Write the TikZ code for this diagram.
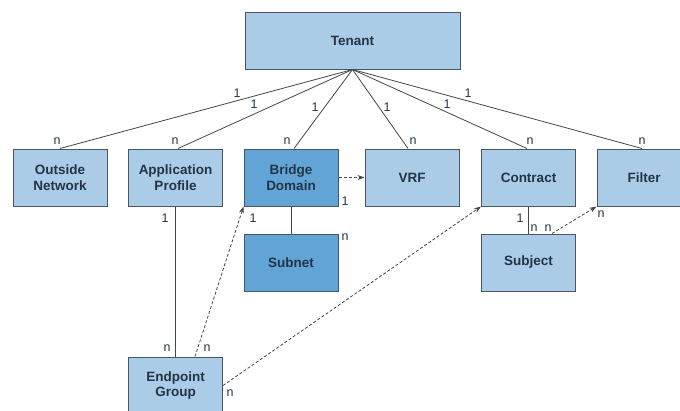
\documentclass[tikz,border=0pt]{standalone}
\usepackage{fontspec}
\setmainfont{Liberation Sans}
\usetikzlibrary{arrows.meta}
\definecolor{boxlight}{RGB}{170,204,231}
\definecolor{boxdark}{RGB}{98,164,213}
\definecolor{boxline}{RGB}{72,86,102}
\definecolor{txt}{RGB}{34,52,72}
\definecolor{wire}{RGB}{70,70,70}
\begin{document}
\begin{tikzpicture}[x=1pt,y=-1pt,
	obj/.style={draw=boxline,line width=1pt,fill=boxlight,minimum width=94pt,minimum height=57pt,
		align=center,text=txt,font=\fontsize{13.5}{15.5}\selectfont\bfseries,inner sep=0pt},
	objdark/.style={obj,fill=boxdark},
	card/.style={text=txt,font=\fontsize{12.5}{12.5}\selectfont,inner sep=0pt},
	rel/.style={wire,line width=0.8pt},
	ref/.style={wire,line width=0.8pt,dash pattern=on 3pt off 2pt,-{Stealth[length=7pt,width=5pt]}}]
				\useasboundingbox (0,0) rectangle (680,410);
				\node[obj,minimum width=215pt] (tenant) at (352.5,40.5) {Tenant};
				\node[obj] (outside) at (60,177.5) {Outside\\Network};
				\node[obj] (app) at (175.5,177.5) {Application\\Profile};
				\node[objdark] (bd) at (291,177.5) {Bridge\\Domain};
				\node[obj] (vrf) at (412,177.5) {VRF};
				\node[obj] (contract) at (528.5,177.5) {Contract};
				\node[obj] (filter) at (644,177.5) {Filter};
				\node[objdark] (subnet) at (291,262.5) {Subnet};
				\node[obj] (subject) at (528.5,262.5) {Subject};
				\node[obj] (epg) at (175.5,385.5) {Endpoint\\Group};
				% tenant children
				\draw[rel] (tenant.south) -- (outside.north);
				\draw[rel] (tenant.south) -- ([xshift=2.5pt]app.north);
				\draw[rel] (tenant.south) -- ([xshift=3pt]bd.north);
				\draw[rel] (tenant.south) -- ([xshift=-4pt]vrf.north);
				\draw[rel] (tenant.south) -- ([xshift=-1.5pt]contract.north);
				\draw[rel] (tenant.south) -- ([xshift=-2pt]filter.north);
				\draw[rel] (bd.south) -- (subnet.north);
				\draw[rel] (app.south) -- (epg.north);
				\draw[rel] (contract.south) -- (subject.north);
				% references
				\draw[ref] (bd.east) -- (vrf.west);
				\draw[ref] ([xshift=19.5pt]epg.north) -- (bd.south west);
				\draw[ref] (epg.east) -- (contract.south west);
				\draw[ref] ([xshift=23.5pt]subject.north) -- (filter.south west);
				% cardinalities
				\node[card] (c1) at (237,93) {1};
				\node[card] (c2) at (254,104) {1};
				\node[card] (c3) at (315,107) {1};
				\node[card] (c4) at (387,107) {1};
				\node[card] (c5) at (447,104) {1};
				\node[card] (c6) at (468,93) {1};
				\node[card] (n1) at (57,141) {n};
				\node[card] (n2) at (175,141) {n};
				\node[card] (n3) at (287,141) {n};
				\node[card] (n4) at (413,141) {n};
				\node[card] (n5) at (530,141) {n};
				\node[card] (n6) at (642,141) {n};
				\node[card] (c7) at (345,201) {1};
				\node[card] (n7) at (345,237) {n};
				\node[card] (c8) at (253,218) {1};
				\node[card] (c9) at (165,218) {1};
				\node[card] (n8) at (167,348) {n};
				\node[card] (n9) at (207,348) {n};
				\node[card] (n10) at (230,393) {n};
				\node[card] (c10) at (520,218) {1};
				\node[card] (n11) at (534,228) {n};
				\node[card] (n12) at (548,228) {n};
				\node[card] (n13) at (601,214) {n};
			\end{tikzpicture}
\end{document}
